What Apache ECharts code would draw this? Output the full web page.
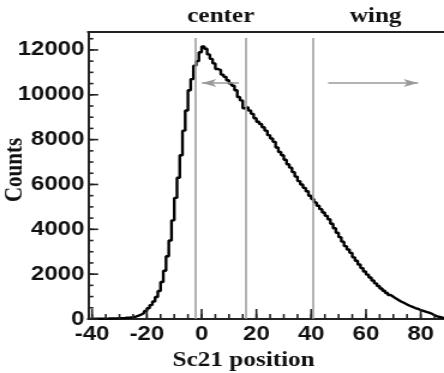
<!DOCTYPE html>
<html>
<head>
<meta charset="utf-8">
<script src="https://cdn.jsdelivr.net/npm/echarts@6/dist/echarts.min.js"></script>
<style>
  html, body { margin: 0; padding: 0; background: #fff; overflow: hidden; }
  /* the reference is stretched horizontally, so draw narrower and stretch */
  #chart { width: 370px; height: 373px; transform: scaleX(1.2); transform-origin: 0 0; }
</style>
</head>
<body>
<div id="chart"></div>
<script>
// histogram: one bin per unit, left edge of first bin at binStart
const binStart = -41;
const binWidth = 1;
const counts = [
  5, 8, 10, 12, 15, 18, 20, 25, 28, 30, 35, 40,                 // -41 .. -30
  45, 55, 65, 80, 110, 150, 200, 270, 360, 480,                 // -29 .. -20
  620, 780, 980, 1250, 1650, 2150, 2800, 3500, 4400, 5400,      // -19 .. -10
  6300, 7300, 8400, 9300, 10200, 10700, 11300, 11500, 11900,    // -9 .. -1
  12150, 12050, 11800, 11600, 11400, 11150, 11100, 10900, 10800, 10650, // 0 .. 9
  10500, 10400, 10200, 9900, 9750, 9400, 9450, 9300, 9150, 8950,        // 10 .. 19
  8800, 8700, 8550, 8400, 8200, 8050, 7900, 7650, 7450, 7300,           // 20 .. 29
  7100, 6900, 6750, 6550, 6350, 6150, 6000, 5850, 5700, 5500,           // 30 .. 39
  5350, 5200, 5050, 4900, 4750, 4600, 4450, 4250, 4050, 3850,           // 40 .. 49
  3650, 3450, 3250, 3100, 2950, 2750, 2600, 2430, 2270, 2120,           // 50 .. 59
  1980, 1850, 1720, 1590, 1470, 1360, 1260, 1160, 1070, 990,            // 60 .. 69
  910, 840, 770, 710, 650, 590, 540, 490, 450, 400,                     // 70 .. 79
  360, 320, 280, 240, 170, 120, 90, 60, 40                              // 80 .. 88
];

const xLabels = [-40, -20, 0, 20, 40, 60, 80];
const xMinor = [-40, -35, -30, -25, -20, -15, -10, -5, 0, 5, 10, 15, 20, 25, 30, 35, 40, 45, 50, 55, 60, 65, 70, 75, 80, 85];
const yLabels = [0, 2000, 4000, 6000, 8000, 10000, 12000];
const yMinor = [0, 500, 1000, 1500, 2000, 2500, 3000, 3500, 4000, 4500, 5000, 5500, 6000,
  6500, 7000, 7500, 8000, 8500, 9000, 9500, 10000, 10500, 11000, 11500, 12000, 12500];

// cut lines and region arrows
const cutPositions = [-2.5, 16, 40.5];
const cutTop = 12530;
const arrowLevel = 10530;
const centerArrow = [13.6, 0.1];
const wingArrow = [46.2, 79];

const xMin = -41.5, xMax = 88.5, yMax = 12800;

const histData = counts.map((c, i) => [binStart + i * binWidth, c]);
histData.push([binStart + counts.length * binWidth, counts[counts.length - 1]]);

const sansBold = { fontFamily: 'Liberation Sans', fontWeight: 'bold', fontSize: 20, color: '#111' };
const serifText = { fontFamily: 'Liberation Serif', fontWeight: 'bold', fontSize: 21, fill: '#111' };
const axisColor = '#222';
const plain = v => String(v);

const chart = echarts.init(document.getElementById('chart'));

// inward ticks, drawn as short lines placed through the axis scales
function tickSeries(data, dx, dy) {
  return {
    type: 'custom',
    data: data,
    clip: false,
    silent: true,
    z: 4,
    renderItem: (params, api) => {
      const p = api.coord([api.value(0), api.value(1)]);
      return {
        type: 'line',
        shape: { x1: p[0], y1: p[1], x2: p[0] + dx, y2: p[1] + dy },
        style: { stroke: axisColor, lineWidth: 1.6 }
      };
    }
  };
}

const cutLines = cutPositions.map(x => [{ coord: [x, 0] }, { coord: [x, cutTop] }]);
const arrows = [centerArrow, wingArrow].map(a => [
  { coord: [a[0], arrowLevel] },
  { coord: [a[1], arrowLevel], symbol: 'arrow', symbolSize: [6, 12] }
]);

chart.setOption({
  animation: false,
  grid: { left: 73.3, right: 0, top: 32, bottom: 54 },
  xAxis: [
    {
      type: 'value', min: xMin, max: xMax, position: 'bottom',
      axisLine: { onZero: false, lineStyle: { color: axisColor, width: 2 } },
      axisTick: { show: false },
      axisLabel: { customValues: xLabels, margin: 5, formatter: plain, ...sansBold },
      splitLine: { show: false }
    },
    {
      type: 'value', min: xMin, max: xMax, position: 'top',
      axisLine: { onZero: false, lineStyle: { color: axisColor, width: 2 } },
      axisTick: { show: false }, axisLabel: { show: false }, splitLine: { show: false }
    }
  ],
  yAxis: [
    {
      type: 'value', min: 0, max: yMax, position: 'left',
      axisLine: { show: true, onZero: false, lineStyle: { color: axisColor, width: 2 } },
      axisTick: { show: false },
      axisLabel: { customValues: yLabels, margin: 3, formatter: plain, ...sansBold },
      splitLine: { show: false }
    }
  ],
  series: [
    {
      type: 'line',
      xAxisIndex: 0, yAxisIndex: 0,
      step: 'end',
      data: histData,
      showSymbol: false,
      clip: true,
      lineStyle: { color: '#000', width: 2.4 },
      z: 3,
      markLine: {
        silent: true,
        symbol: 'none',
        label: { show: false },
        lineStyle: { color: '#9a9a9a', width: 1.5, type: 'solid' },
        data: cutLines.concat(arrows)
      }
    },
    tickSeries(xLabels.map(v => [v, 0]), 0, -10),
    tickSeries(xMinor.map(v => [v, 0]), 0, -5),
    tickSeries(yLabels.map(v => [xMin, v]), 8.5, 0),
    tickSeries(yMinor.map(v => [xMin, v]), 4.5, 0)
  ],
  graphic: [
    { type: 'text', x: 184, y: 17, style: { text: 'center', align: 'center', verticalAlign: 'middle', ...serifText } },
    { type: 'text', x: 313, y: 17, style: { text: 'wing', align: 'center', verticalAlign: 'middle', ...serifText } },
    { type: 'text', x: 12.5, y: 170, rotation: Math.PI / 2, style: { text: 'Counts', align: 'center', verticalAlign: 'middle', ...serifText } },
    { type: 'text', x: 203, y: 361, style: { text: 'Sc21 position', align: 'center', verticalAlign: 'middle', ...serifText } }
  ]
});
</script>
</body>
</html>
